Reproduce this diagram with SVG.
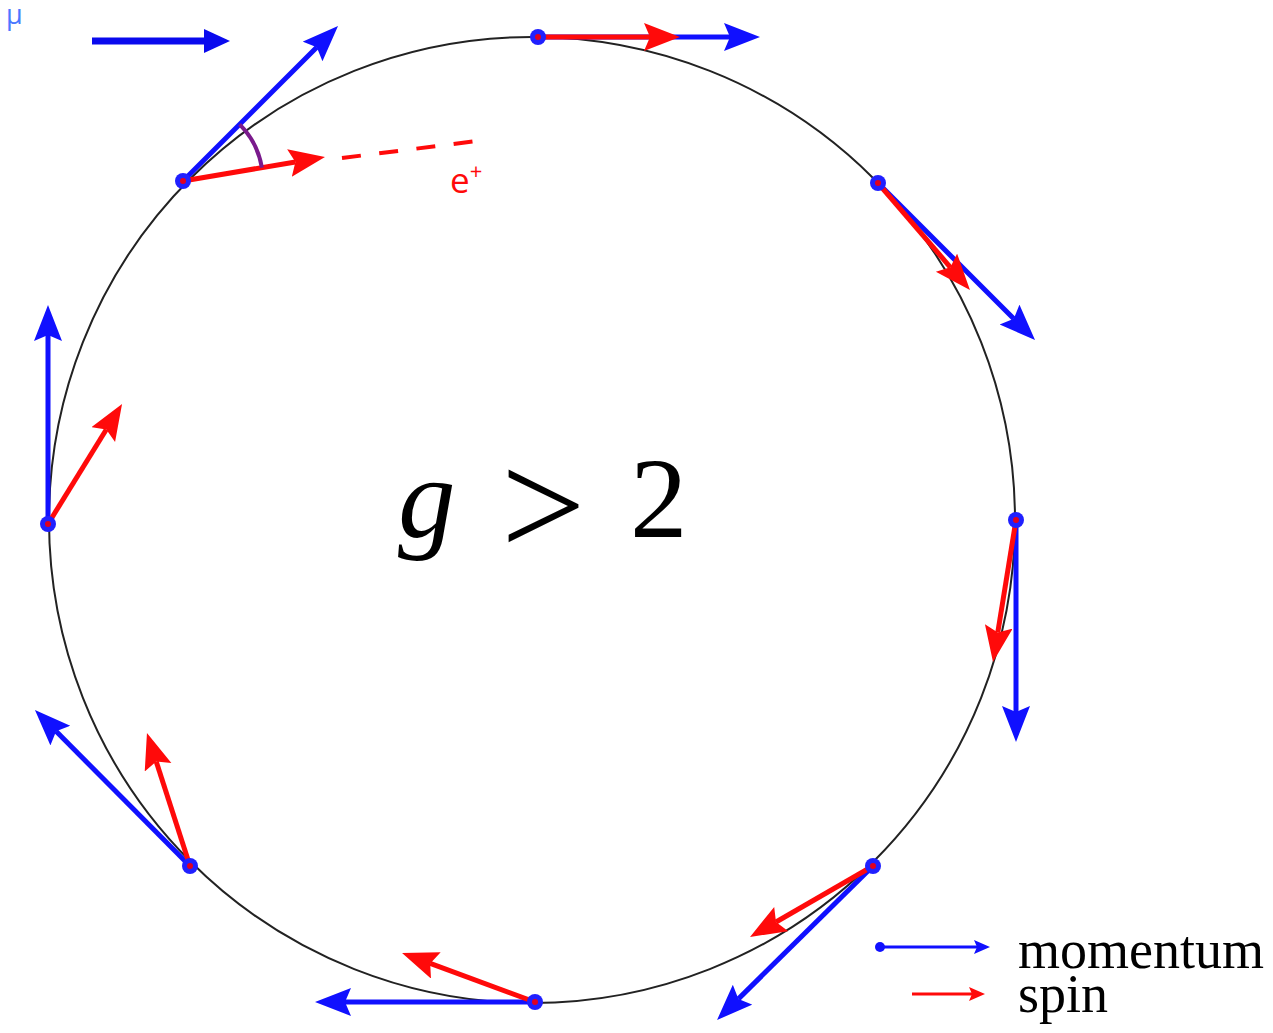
<svg xmlns="http://www.w3.org/2000/svg" width="1273" height="1033" viewBox="0 0 1273 1033">
<style>
.mom{stroke:#1010ff;stroke-width:5;fill:none;marker-end:url(#hb)}
.spin{stroke:#ff0a0a;stroke-width:5;fill:none;marker-end:url(#hr)}
.dot{fill:#2020ff}
.core{fill:#e00020}
.lbl{font-family:"Liberation Serif","Times New Roman",serif;fill:#000}
</style>
<defs>
<marker id="hb" markerUnits="userSpaceOnUse" markerWidth="40" markerHeight="30" refX="6" refY="14" orient="auto" viewBox="0 0 40 30"><path d="M0,0 L36,14 L0,28 L6,14 z" fill="#1010ff"/></marker>
<marker id="hr" markerUnits="userSpaceOnUse" markerWidth="40" markerHeight="30" refX="6" refY="14" orient="auto" viewBox="0 0 40 30"><path d="M0,0 L36,14 L0,28 L6,14 z" fill="#ff0a0a"/></marker>
<marker id="hbig" markerUnits="userSpaceOnUse" markerWidth="30" markerHeight="26" refX="1" refY="12" orient="auto" viewBox="0 0 30 26"><path d="M0,0 L26,12 L0,24 z" fill="#0a0aee"/></marker>
<marker id="hlb" markerUnits="userSpaceOnUse" markerWidth="18" markerHeight="16" refX="3" refY="7" orient="auto" viewBox="0 0 18 16"><path d="M0,0 L16,7 L0,14 L3,7 z" fill="#1010ff"/></marker>
<marker id="hlr" markerUnits="userSpaceOnUse" markerWidth="18" markerHeight="16" refX="3" refY="7" orient="auto" viewBox="0 0 18 16"><path d="M0,0 L16,7 L0,14 L3,7 z" fill="#ff0a0a"/></marker>
</defs>
<rect width="1273" height="1033" fill="#fff"/>
<g id="orbit"><circle cx="532" cy="520" r="483" fill="none" stroke="#222" stroke-width="2"/></g>
<g id="label-mu"><text x="6" y="24" font-family="Open Sans,Liberation Sans,sans-serif" font-size="27" fill="#4a78ff">μ</text></g>
<g id="mu-direction"><line x1="92" y1="41" x2="205" y2="41" stroke="#0a0aee" stroke-width="7" marker-end="url(#hbig)"/></g>
<g id="connectors">
<line class="mom" x1="183" y1="181" x2="316.8" y2="47.2"/>
<line class="spin" x1="183" y1="181" x2="295.4" y2="162"/>
<line class="mom" x1="538" y1="37" x2="730" y2="37"/>
<line class="spin" x1="538" y1="37" x2="650" y2="37"/>
<line class="mom" x1="878" y1="183" x2="1013.8" y2="318.8"/>
<line class="spin" x1="878" y1="183" x2="950.4" y2="267.3"/>
<line class="mom" x1="1016" y1="520" x2="1016" y2="712"/>
<line class="spin" x1="1016" y1="520" x2="997.8" y2="632.4"/>
<line class="mom" x1="873" y1="866" x2="738.4" y2="998.9"/>
<line class="spin" x1="873" y1="866" x2="776" y2="922"/>
<line class="mom" x1="535" y1="1002" x2="345" y2="1002"/>
<line class="spin" x1="535" y1="1002" x2="430.2" y2="963.4"/>
<line class="mom" x1="190" y1="866" x2="56.1" y2="731.3"/>
<line class="spin" x1="190" y1="866" x2="156.2" y2="761.5"/>
<line class="mom" x1="48" y1="524" x2="48" y2="335"/>
<line class="spin" x1="48" y1="524" x2="106.3" y2="429.5"/>
<path d="M239.6,124.4 A80,80 0 0 1 261.9,167.7" fill="none" stroke="#7a1a8c" stroke-width="4"/>
<line x1="342" y1="158" x2="473" y2="141.5" stroke="#ff0a0a" stroke-width="4" stroke-dasharray="19,18.5"/>
</g>
<g id="points">
<circle class="dot" cx="183" cy="181" r="8"/><circle class="core" cx="183" cy="181" r="3"/>
<circle class="dot" cx="538" cy="37" r="8"/><circle class="core" cx="538" cy="37" r="3"/>
<circle class="dot" cx="878" cy="183" r="8"/><circle class="core" cx="878" cy="183" r="3"/>
<circle class="dot" cx="1016" cy="520" r="8"/><circle class="core" cx="1016" cy="520" r="3"/>
<circle class="dot" cx="873" cy="866" r="8"/><circle class="core" cx="873" cy="866" r="3"/>
<circle class="dot" cx="535" cy="1002" r="8"/><circle class="core" cx="535" cy="1002" r="3"/>
<circle class="dot" cx="190" cy="866" r="8"/><circle class="core" cx="190" cy="866" r="3"/>
<circle class="dot" cx="48" cy="524" r="8"/><circle class="core" cx="48" cy="524" r="3"/>
</g>
<g id="label-positron"><text x="450" y="193" font-family="Open Sans,Liberation Sans,sans-serif" font-size="35" fill="#ff0a0a">e<tspan dy="-14" font-size="22">+</tspan></text></g>
<g id="title">
<text class="lbl" x="398" y="537" font-size="115" font-style="italic">g</text>
<text class="lbl" x="501" y="556" font-size="150">&gt;</text>
<text class="lbl" x="630" y="537" font-size="115">2</text>
</g>
<g id="legend">
<circle cx="880" cy="947" r="5" fill="#1010ff"/>
<line x1="880" y1="947" x2="977" y2="947" stroke="#1010ff" stroke-width="3" marker-end="url(#hlb)"/>
<line x1="912" y1="994" x2="972" y2="994" stroke="#ff0a0a" stroke-width="3" marker-end="url(#hlr)"/>
<text class="lbl" x="1018" y="968" font-size="54">momentum</text>
<text class="lbl" x="1018" y="1012" font-size="54">spin</text>
</g>
</svg>
